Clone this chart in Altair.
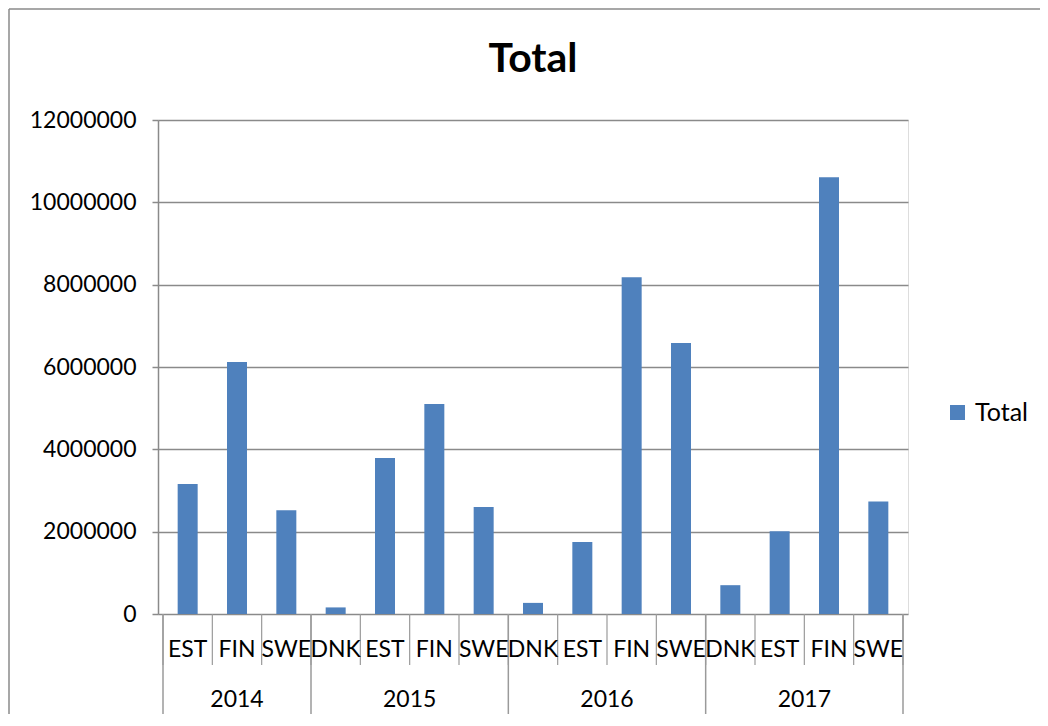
import altair as alt
import pandas as pd

# ---- data ----
years = ["2014", "2015", "2016", "2017"]
countries_2014 = ["EST", "FIN", "SWE"]
countries_2015 = ["DNK", "EST", "FIN", "SWE"]
countries_2016 = ["DNK", "EST", "FIN", "SWE"]
countries_2017 = ["DNK", "EST", "FIN", "SWE"]
values_2014 = [3160000, 6120000, 2520000]
values_2015 = [160000, 3790000, 5100000, 2600000]
values_2016 = [270000, 1750000, 8180000, 6580000]
values_2017 = [700000, 2010000, 10610000, 2730000]
series_name = "Total"
chart_title = "Total"
y_ticks = [0, 2000000, 4000000, 6000000, 8000000, 10000000, 12000000]

groups = [
    ("2014", countries_2014, values_2014),
    ("2015", countries_2015, values_2015),
    ("2016", countries_2016, values_2016),
    ("2017", countries_2017, values_2017),
]

rows, group_rows = [], []
pos = 0
long_b = [0]
for yr, cs, vs in groups:
    start = pos
    for c, v in zip(cs, vs):
        rows.append({"year": yr, "country": c, "value": v,
                     "center": pos + 0.5, "series": series_name})
        pos += 1
    group_rows.append({"year": yr, "mid": (start + pos) / 2})
    long_b.append(pos)
bars_df = pd.DataFrame(rows)
group_df = pd.DataFrame(group_rows)
short_bounds = pd.DataFrame({"b": list(range(pos + 1))})
long_bounds = pd.DataFrame({"b": long_b})
title_df = pd.DataFrame({"t": [chart_title], "mid": [pos / 2]})

W, H = 750, 494
FONT = "Lato"
BLUE = "#4F81BD"
GRAY = "#8a8a8a"

xscale = alt.Scale(domain=[0, pos], nice=False, zero=False)

bars = alt.Chart(bars_df).mark_bar(width=20).encode(
    x=alt.X("center:Q", scale=xscale, axis=None),
    y=alt.Y("value:Q",
            scale=alt.Scale(domain=[0, 12000000], nice=False),
            axis=alt.Axis(values=y_ticks, format="d", title=None,
                          grid=True, gridColor=GRAY, gridWidth=1.5,
                          domainColor=GRAY, domainWidth=1.5,
                          tickColor=GRAY, tickWidth=1.5, tickSize=6,
                          labelFont=FONT, labelFontSize=23,
                          labelColor="black", labelPadding=16)),
    color=alt.Color("series:N",
                    scale=alt.Scale(domain=[series_name], range=[BLUE]),
                    legend=alt.Legend(title=None, orient="none",
                                      legendX=787, legendY=280,
                                      symbolType="square", symbolSize=225,
                                      symbolStrokeWidth=0,
                                      labelFont=FONT, labelFontSize=25,
                                      labelColor="black", labelOffset=5)),
)

country_text = alt.Chart(bars_df).mark_text(
    font=FONT, fontSize=23, color="black", baseline="middle", align="center"
).encode(
    x=alt.X("center:Q", scale=xscale),
    y=alt.value(H + 36),
    text="country:N",
)

year_text = alt.Chart(group_df).mark_text(
    font=FONT, fontSize=23, color="black", baseline="middle", align="center"
).encode(
    x=alt.X("mid:Q", scale=xscale),
    y=alt.value(H + 86),
    text="year:N",
)

title_text = alt.Chart(title_df).mark_text(
    font=FONT, fontSize=41, fontWeight="bold", color="black",
    baseline="alphabetic", align="center"
).encode(
    x=alt.X("mid:Q", scale=xscale),
    y=alt.value(-48),
    text="t:N",
)

short_rules = alt.Chart(short_bounds).mark_rule(color="#9a9a9a", strokeWidth=1.2).encode(
    x=alt.X("b:Q", scale=xscale),
    y=alt.value(H),
    y2=alt.value(H + 51),
)

long_rules = alt.Chart(long_bounds).mark_rule(color="#9a9a9a", strokeWidth=1.5).encode(
    x=alt.X("b:Q", scale=xscale),
    y=alt.value(H),
    y2=alt.value(H + 103),
)

frame_df = pd.DataFrame({"f": [0]})
frame_left = alt.Chart(frame_df).mark_rule(color=GRAY, strokeWidth=1.5).encode(
    x=alt.value(-149), y=alt.value(-111), y2=alt.value(H + 200),
)
frame_top = alt.Chart(frame_df).mark_rule(color=GRAY, strokeWidth=1.5).encode(
    x=alt.value(-149), x2=alt.value(W + 300), y=alt.value(-111),
)

chart = alt.layer(frame_left, frame_top, bars, short_rules, long_rules,
                  country_text, year_text, title_text).properties(
    width=W, height=H,
    autosize=alt.AutoSizeParams(type="none"),
    padding={"left": 150, "top": 112, "right": 132, "bottom": 100},
).configure_view(stroke=None).configure(background="white")

chart.save("out.html", embed_options={"renderer": "svg", "actions": False})
